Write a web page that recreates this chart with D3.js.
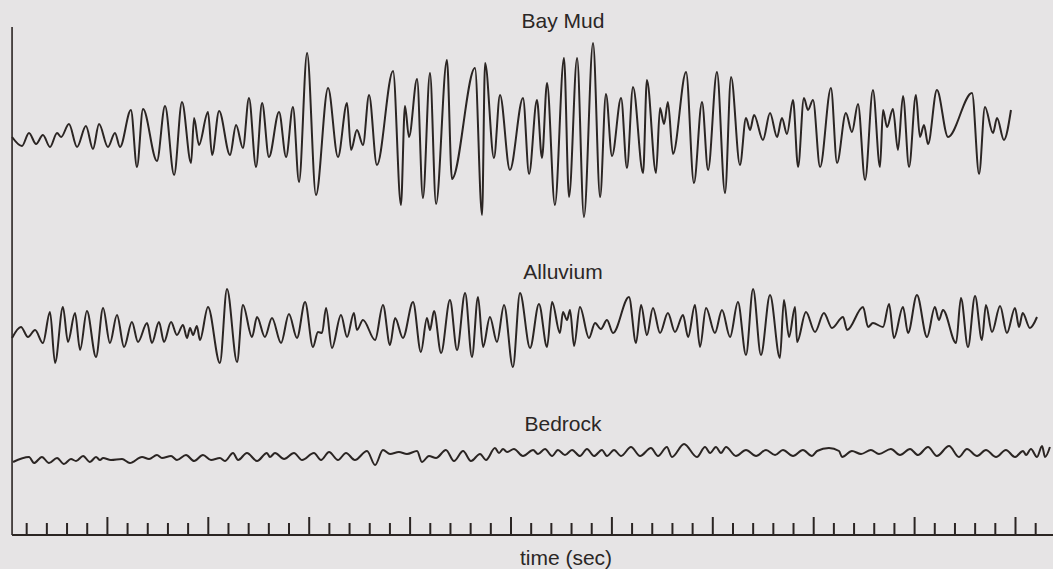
<!DOCTYPE html>
<html>
<head>
<meta charset="utf-8">
<script src="https://cdn.jsdelivr.net/npm/d3@7"></script>
<style>
html, body { margin: 0; padding: 0; background: #e6e4e5; }
svg { display: block; }
text { font-family: "Liberation Sans", Arial, sans-serif; fill: #2b2726; }
</style>
</head>
<body>
<div id="chart"></div>
<script>
// seismogram traces: [time (sec), amplitude] at each peak / trough
const bayMud = [
  [0.30,-2],[0.79,-11],[1.14,2],[1.49,-9],[1.83,0],[2.18,-12],[2.53,2],[2.73,-2],
  [3.12,11],[3.52,-12],[3.96,9],[4.31,-14],[4.61,11],[5.05,-12],[5.40,2],[5.65,-12],
  [6.19,25],[6.49,-32],[6.79,26],[7.48,-26],[7.88,29],[8.33,-40],[8.72,33],[9.17,-28],
  [9.32,17],[9.56,-10],[10.01,23],[10.21,-20],[10.56,24],[11.10,-20],[11.40,10],[11.74,-13],
  [12.04,37],[12.39,-32],[12.69,32],[13.03,-22],[13.53,23],[13.88,-22],[14.22,28],[14.52,-47],
  [14.92,82],[15.36,-60],[15.96,47],[16.45,-22],[16.90,32],[17.10,-15],[17.39,5],[17.69,-10],
  [17.99,40],[18.38,-30],[19.18,64],[19.57,-70],[19.77,29],[19.97,-2],[20.37,56],[20.66,-63],
  [21.01,62],[21.31,-69],[21.85,75],[22.10,-44],[23.24,67],[23.59,-80],[23.74,72],[24.18,-23],
  [24.48,40],[24.97,-35],[25.62,37],[25.92,-39],[26.31,35],[26.56,-23],[26.81,52],[27.20,-70],
  [27.65,77],[27.90,-62],[28.30,77],[28.64,-82],[29.09,92],[29.44,-62],[29.73,41],[30.03,-21],
  [30.48,37],[30.77,-33],[31.07,48],[31.57,-38],[31.76,55],[32.21,-38],[32.41,27],[32.61,11],
  [32.80,33],[33.05,-19],[33.70,63],[34.09,-48],[34.49,33],[34.79,-35],[35.23,63],[35.63,-58],
  [35.93,58],[36.37,-30],[36.67,17],[36.87,5],[37.07,20],[37.51,-5],[37.86,22],[38.21,-2],
  [38.45,17],[38.70,1],[39.00,35],[39.25,-32],[39.54,37],[39.74,25],[39.99,35],[40.34,-32],
  [40.88,47],[41.18,-28],[41.62,22],[41.92,3],[42.22,31],[42.57,-45],[42.96,45],[43.31,-32],
  [43.46,25],[43.66,8],[43.95,26],[44.20,-15],[44.45,39],[44.75,-32],[45.09,40],[45.29,-2],
  [45.49,10],[45.69,-9],[46.13,45],[46.68,-2],[47.87,42],[48.22,-39],[48.51,28],[48.91,2],
  [49.11,17],[49.45,-5],[49.80,25]
];

const alluvium = [
  [0.30,-8],[0.74,3],[1.09,-7],[1.44,0],[1.83,-13],[2.18,18],[2.43,-33],[2.82,23],
  [3.07,-12],[3.42,17],[3.67,-20],[4.01,19],[4.46,-27],[4.81,22],[5.15,-13],[5.50,15],
  [5.85,-17],[6.24,8],[6.54,-12],[6.99,7],[7.23,-13],[7.58,8],[7.83,-12],[8.18,8],
  [8.47,-5],[8.77,5],[8.97,-8],[9.12,2],[9.27,-5],[9.46,4],[9.61,-10],[10.01,23],
  [10.60,-33],[10.95,41],[11.45,-32],[11.74,25],[12.19,-7],[12.44,13],[12.83,-7],[13.18,12],
  [13.63,-13],[14.02,16],[14.42,-8],[14.82,28],[15.21,-17],[15.46,-2],[15.66,-3],[15.86,22],
  [16.15,-18],[16.60,15],[16.90,-7],[17.24,17],[17.39,0],[17.69,10],[18.29,-10],[18.68,25],
  [19.03,-15],[19.28,12],[19.67,-8],[20.17,28],[20.56,-22],[20.86,12],[21.01,0],[21.21,19],
  [21.56,-23],[22.00,30],[22.35,-20],[22.75,37],[23.09,-27],[23.39,33],[23.64,-17],[23.98,13],
  [24.33,-12],[24.68,25],[25.12,-37],[25.47,37],[25.97,-18],[26.41,26],[26.81,-17],[27.06,28],
  [27.45,-3],[27.60,18],[27.80,10],[27.95,20],[28.15,-16],[28.44,23],[28.89,-8],[29.19,7],
  [29.48,1],[29.78,10],[30.08,-3],[30.87,33],[31.22,-13],[31.47,25],[31.76,-5],[32.06,22],
  [32.41,-3],[32.80,17],[33.15,-2],[33.55,15],[33.80,-7],[34.14,25],[34.39,-17],[34.69,22],
  [35.13,-3],[35.48,20],[35.88,-7],[36.27,28],[36.67,-25],[37.02,41],[37.41,-25],[37.86,35],
  [38.35,-28],[38.55,30],[38.80,-7],[39.10,23],[39.20,-12],[39.64,18],[40.09,-2],[40.53,17],
  [40.93,2],[41.48,13],[41.68,0],[42.47,23],[42.72,3],[42.96,7],[43.46,3],[43.76,26],
  [44.00,-8],[44.45,23],[44.70,-3],[45.14,35],[45.64,-7],[46.03,23],[46.23,10],[46.43,20],
  [47.08,-13],[47.32,32],[47.67,-17],[48.02,34],[48.36,-10],[48.56,25],[48.86,-2],[49.26,24],
  [49.60,-3],[50.00,22],[50.20,3],[50.38,17],[50.74,2],[51.09,13]
];

const bedrock = [
  [0.35,-7],[1.14,-2],[1.39,-8],[1.78,-2],[2.13,-8],[2.53,-3],[2.87,-9],[3.22,-4],
  [3.47,-6],[3.82,-1],[4.16,-7],[4.46,-2],[4.66,-5],[4.81,-3],[5.20,-5],[5.75,-4],
  [6.14,-8],[6.74,-2],[7.09,-4],[7.48,0],[7.73,-3],[8.18,-1],[8.47,-5],[8.92,0],
  [9.32,-6],[9.76,0],[10.16,-5],[10.60,-3],[10.85,-6],[11.25,2],[11.50,-5],[11.94,2],
  [12.44,-6],[12.93,2],[13.08,-2],[13.33,2],[13.78,-4],[14.27,2],[14.67,-5],[15.26,2],
  [15.61,-5],[16.01,3],[16.45,-5],[16.85,2],[17.29,-5],[17.89,4],[18.29,-10],[18.68,5],
  [19.03,1],[19.47,3],[19.87,1],[20.37,4],[20.61,-7],[20.96,-1],[21.31,-3],[21.80,5],
  [22.20,-6],[22.65,4],[23.04,-6],[23.49,1],[23.79,-5],[24.23,7],[24.43,2],[24.63,6],
  [24.83,3],[25.17,6],[25.62,-1],[26.12,5],[26.36,1],[26.71,6],[27.06,-1],[27.35,5],
  [27.70,0],[28.05,5],[28.44,-1],[28.79,6],[29.14,-1],[29.53,5],[29.78,-1],[30.13,5],
  [30.48,-1],[30.97,8],[31.42,-1],[31.96,7],[32.31,-1],[32.75,8],[33.00,-2],[33.60,11],
  [34.24,-2],[34.64,8],[34.89,2],[35.18,8],[35.43,2],[35.68,8],[36.17,-1],[36.67,5],
  [37.17,-1],[37.66,5],[38.11,0],[38.50,5],[39.00,-1],[39.49,5],[39.94,-1],[40.19,4],
  [40.78,7],[41.28,4],[41.43,-2],[41.92,4],[42.37,1],[42.86,5],[43.26,1],[43.85,6],
  [44.30,0],[44.80,6],[45.19,0],[45.69,8],[46.13,-1],[46.73,9],[47.22,-2],[47.62,6],
  [48.12,-1],[48.56,5],[49.06,-2],[49.55,5],[50.00,-2],[50.40,4],[50.55,0],[50.79,6],
  [51.09,-2],[51.34,9],[51.49,-2],[51.73,8]
];

const siteNames = ["Bay Mud", "Alluvium", "Bedrock"];
const tickSecs = d3.range(1, 53);
const recordStart = 0.3;

const width = 1053, height = 569;
const ink = "#2b2523";

const svg = d3.select("#chart").append("svg")
    .attr("width", width)
    .attr("height", height);

svg.append("rect")
    .attr("width", width)
    .attr("height", height)
    .attr("fill", "#e6e4e5");

const x = d3.scaleLinear().domain([0, 52]).range([6, 6 + 52 * 20.18]);
const amp = d3.scaleLinear().domain([-100, 100]).range([100, -100]);

const line = d3.line()
    .x(function(d) { return x(d[0]); })
    .y(function(d) { return amp(d[1]); })
    .curve(d3.curveMonotoneX);

// baseline of each trace and y of its label
const rows = [
  { data: bayMud,   base: 135, labelY: 28 },
  { data: alluvium, base: 330, labelY: 279 },
  { data: bedrock,  base: 455, labelY: 431 }
];

rows.forEach(function(r, i) {
  svg.append("g")
      .attr("transform", "translate(0," + r.base + ")")
    .append("path")
      .datum(r.data)
      .attr("d", line)
      .attr("fill", "none")
      .attr("stroke", ink)
      .attr("stroke-width", 2)
      .attr("stroke-linejoin", "round");

  svg.append("text")
      .attr("x", 563)
      .attr("y", r.labelY)
      .attr("text-anchor", "middle")
      .attr("font-size", 21)
      .text(siteNames[i]);
});

const axisY = 535;

// left frame line
svg.append("line")
    .attr("x1", x(recordStart)).attr("x2", x(recordStart))
    .attr("y1", 27).attr("y2", axisY)
    .attr("stroke", ink)
    .attr("stroke-width", 1.6);

// time axis, ticks pointing up, every 5th one longer
const axis = d3.axisTop(x)
    .tickValues(tickSecs)
    .tickSize(12)
    .tickSizeOuter(0)
    .tickFormat("");

const ag = svg.append("g")
    .attr("transform", "translate(0," + axisY + ")")
    .call(axis);
ag.select(".domain").remove();
ag.selectAll(".tick line")
    .attr("y2", function(d) { return d % 5 === 0 ? -18 : -12; })
    .attr("stroke", ink)
    .attr("stroke-width", 2);

svg.append("line")
    .attr("x1", x(recordStart)).attr("x2", width)
    .attr("y1", axisY).attr("y2", axisY)
    .attr("stroke", ink)
    .attr("stroke-width", 2);

svg.append("text")
    .attr("x", 566)
    .attr("y", 565)
    .attr("text-anchor", "middle")
    .attr("font-size", 21)
    .text("time (sec)");
</script>
</body>
</html>
